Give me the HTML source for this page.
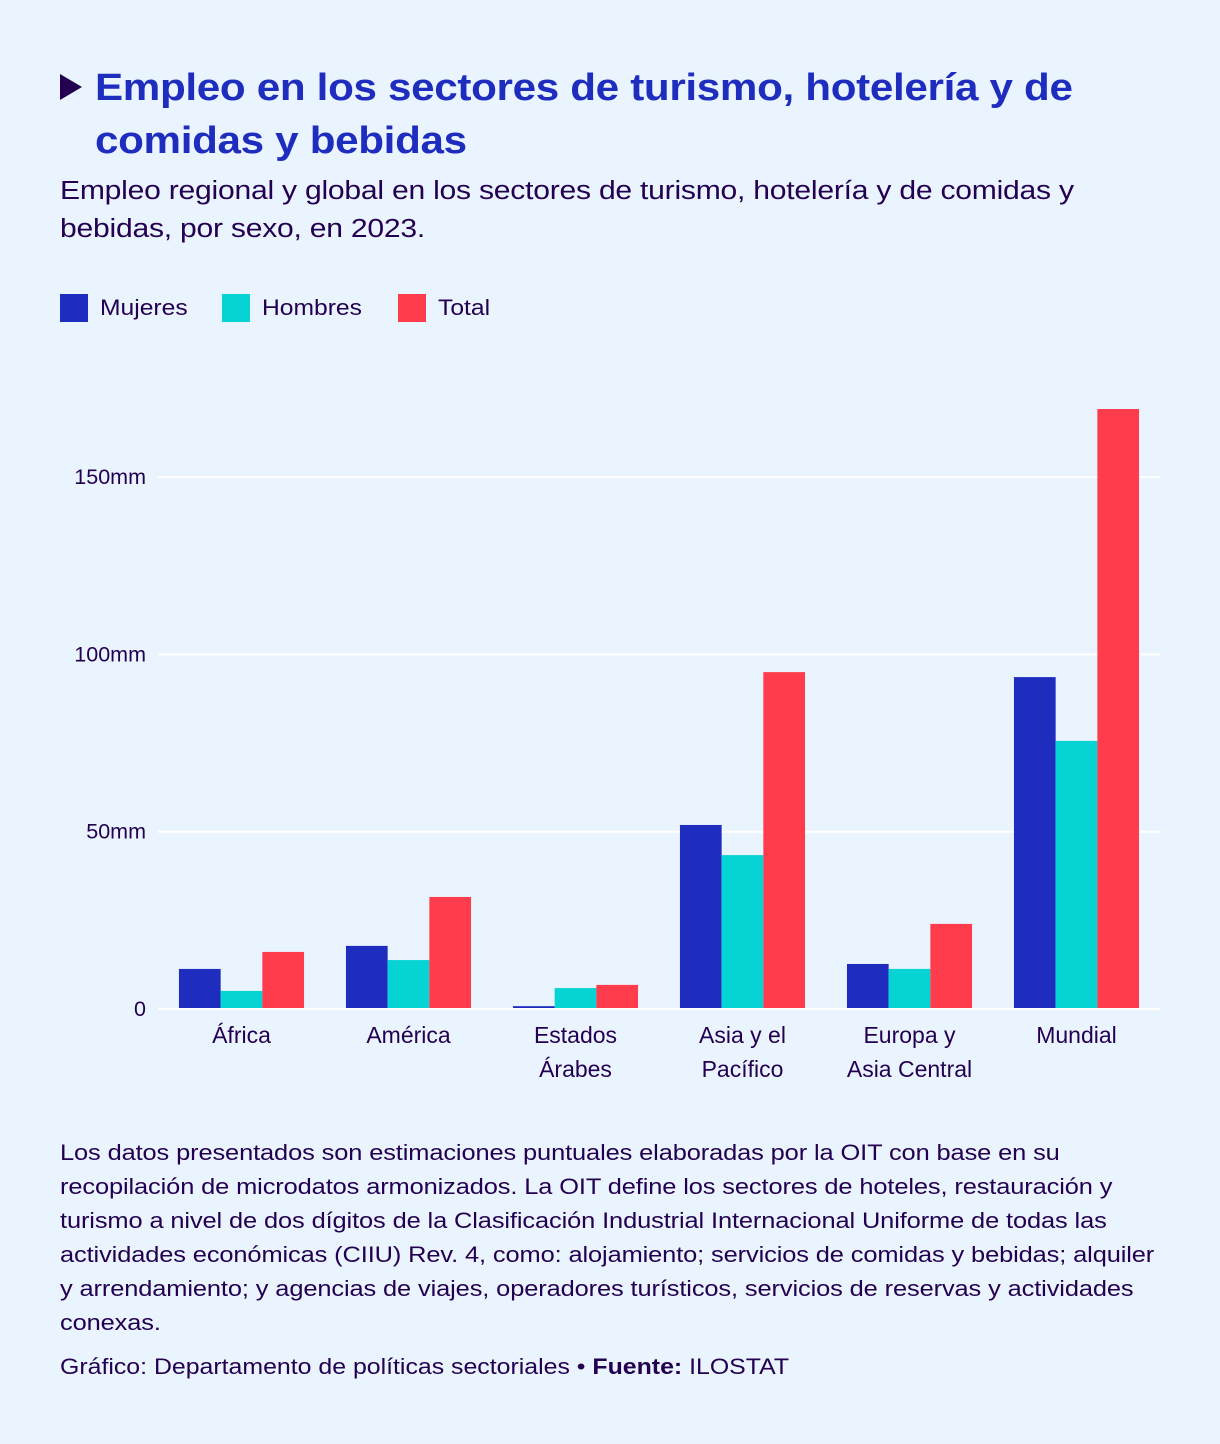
<!DOCTYPE html>
<html><head><meta charset="utf-8"><style>
body{margin:0;background:#eaf4fe;width:1220px;height:1444px;font-family:"Liberation Sans","DejaVu Sans",sans-serif;color:#230050;position:relative;overflow:hidden}
.abs{position:absolute;white-space:nowrap;transform-origin:0 0}
#title{left:95px;top:62px;font-size:38px;font-weight:bold;color:#1e2dbe;line-height:53px;letter-spacing:-0.3px;transform:scaleX(1.11)}
#tri{left:60px;top:74px;width:0;height:0;border-left:22px solid #230050;border-top:13px solid transparent;border-bottom:13px solid transparent}
#sub{left:60px;top:172px;font-size:25.5px;line-height:38px;letter-spacing:-0.2px;transform:scaleX(1.18)}
.leg{top:294px;height:28px;font-size:22px;line-height:28px}
.sw{display:inline-block;width:28px;height:28px;vertical-align:top;margin-right:12px}
.lt{display:inline-block;transform:scaleX(1.12);transform-origin:0 0}
#note{left:60px;top:1136px;font-size:22px;line-height:34px;letter-spacing:-0.1px;transform:scaleX(1.155)}
#credit{left:60px;top:1350px;font-size:22px;line-height:34px;transform:scaleX(1.13)}
</style></head><body>
<div id="tri" class="abs"></div>
<div id="title" class="abs">Empleo en los sectores de turismo, hotelería y de<br>comidas y bebidas</div>
<div id="sub" class="abs">Empleo regional y global en los sectores de turismo, hotelería y de comidas y<br>bebidas, por sexo, en 2023.</div>
<div class="abs leg" style="left:60px"><span class="sw" style="background:#1e2dbe"></span><span class="lt">Mujeres</span></div>
<div class="abs leg" style="left:222px"><span class="sw" style="background:#06d4d4"></span><span class="lt">Hombres</span></div>
<div class="abs leg" style="left:398px"><span class="sw" style="background:#fe3c4c"></span><span class="lt">Total</span></div>
<svg id="chart" class="abs" style="left:0;top:0" width="1220" height="1110"></svg>
<div id="note" class="abs">Los datos presentados son estimaciones puntuales elaboradas por la OIT con base en su<br>recopilación de microdatos armonizados. La OIT define los sectores de hoteles, restauración y<br>turismo a nivel de dos dígitos de la Clasificación Industrial Internacional Uniforme de todas las<br>actividades económicas (CIIU) Rev. 4, como: alojamiento; servicios de comidas y bebidas; alquiler<br>y arrendamiento; y agencias de viajes, operadores turísticos, servicios de reservas y actividades<br>conexas.</div>
<div id="credit" class="abs">Gráfico: Departamento de políticas sectoriales • <b>Fuente:</b> ILOSTAT</div>
<script>
const categories=[["África"],["América"],["Estados","Árabes"],["Asia y el","Pacífico"],["Europa y","Asia Central"],["Mundial"]];
const mujeres=[11.3,17.8,0.8,51.9,12.7,93.6];
const hombres=[5.1,13.8,5.9,43.4,11.3,75.6];
const total=[16.1,31.6,6.8,95.0,24.0,169.2];
const ticks=[0,50,100,150];
const tickLabels=["0","50mm","100mm","150mm"];
const series=[{v:mujeres,c:"#1e2dbe",n:"mujeres"},{v:hombres,c:"#06d4d4",n:"hombres"},{v:total,c:"#fe3c4c",n:"total"}];
const NS="http://www.w3.org/2000/svg",svg=document.getElementById("chart");
const x0=158,x1=1160,y0=1009,pxPer=177.3/50;
const y=v=>y0-v*pxPer;
const band=(x1-x0)/categories.length;
function mk(t,a){const e=document.createElementNS(NS,t);for(const k in a)e.setAttribute(k,a[k]);svg.appendChild(e);return e;}
ticks.forEach((t,i)=>{
 if(t>0){const l=mk("line",{x1:x0,x2:x1,y1:y(t),y2:y(t),stroke:"#fff","stroke-width":2});
 
 }
 const tx=mk("text",{x:146,y:y(t)+7,"text-anchor":"end","font-size":21.5,fill:"#230050"});
 tx.textContent=tickLabels[i];
 
 
});
const bw=41.7;
categories.forEach((c,i)=>{
 const cx=x0+band*(i+0.5);
 series.forEach((s,j)=>{
  const r=mk("rect",{x:cx-1.5*bw+j*bw,y:y(s.v[i]),width:bw,height:s.v[i]*pxPer,fill:s.c});
  
  
 });
 c.forEach((ln,k)=>{
  const t=mk("text",{x:cx,y:1043+k*34,"text-anchor":"middle","font-size":23,fill:"#230050"});
  t.textContent=ln;
  
  
 });
});
const base=mk("line",{x1:x0,x2:x1,y1:y0,y2:y0,stroke:"#fff","stroke-width":2});


</script>
</body></html>
